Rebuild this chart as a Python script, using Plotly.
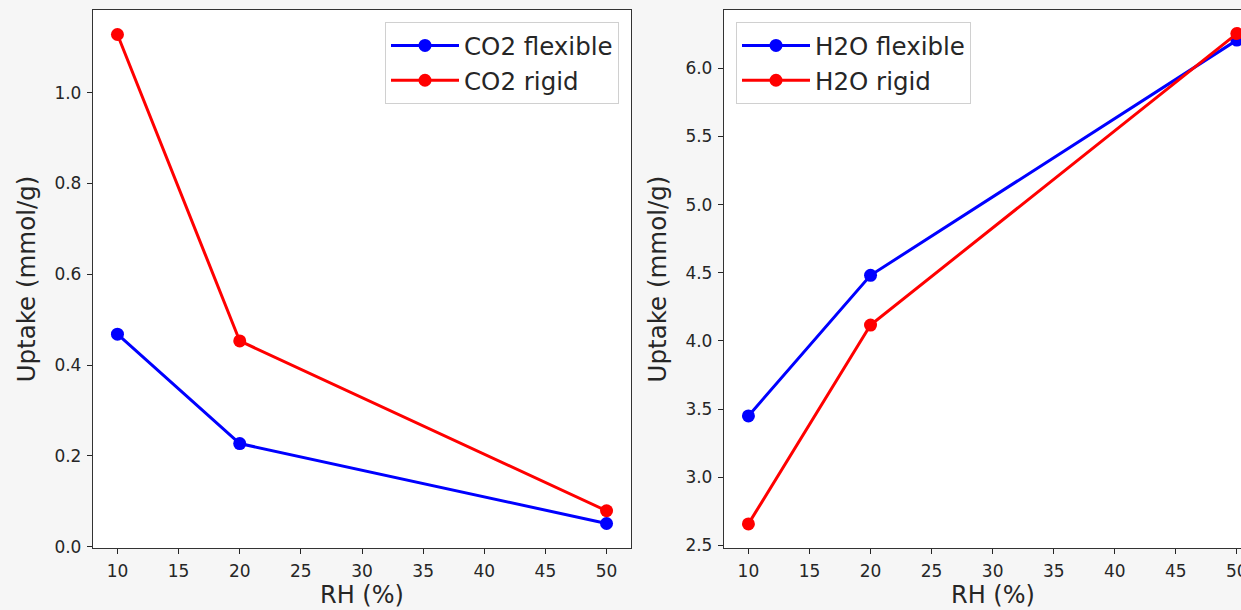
import plotly.graph_objects as go

rh = [10, 20, 50]
co2_flexible = [0.468, 0.227, 0.051]
co2_rigid = [1.128, 0.453, 0.079]
h2o_flexible = [3.449, 4.481, 6.207]
h2o_rigid = [2.657, 4.116, 6.255]

x_ticks = [10, 15, 20, 25, 30, 35, 40, 45, 50]
y1_ticks = [0.0, 0.2, 0.4, 0.6, 0.8, 1.0]
y2_ticks = [2.5, 3.0, 3.5, 4.0, 4.5, 5.0, 5.5, 6.0]
x_title = "RH (%)"
y_title = "Uptake (mmol/g)"

W, H = 1241, 610
BLUE, RED = "#0000ff", "#ff0000"
FONT = "DejaVu Sans"
TXT = "#262626"

fig = go.Figure()

def add(x, y, name, color, xa, ya, leg):
    fig.add_trace(go.Scatter(
        x=x, y=y, name=name, mode="lines+markers",
        line=dict(color=color, width=3),
        marker=dict(color=color, size=13, symbol="circle"),
        xaxis=xa, yaxis=ya, legend=leg, cliponaxis=False,
    ))

add(rh, co2_flexible, "CO2 flexible", BLUE, "x", "y", "legend")
add(rh, co2_rigid, "CO2 rigid", RED, "x", "y", "legend")
add(rh, h2o_flexible, "H2O flexible", BLUE, "x2", "y2", "legend2")
add(rh, h2o_rigid, "H2O rigid", RED, "x2", "y2", "legend2")

tickfont = dict(family=FONT, size=17, color=TXT)
titlefont = dict(family=FONT, size=24.5, color=TXT)

xcommon = dict(
    tickvals=x_ticks, ticks="outside", ticklen=5, tickwidth=1.2, tickcolor=TXT,
    showline=True, linecolor="#333333", linewidth=1.3, showgrid=False, zeroline=False,
    tickfont=tickfont, ticklabelstandoff=2, ticklabeloverflow="allow", automargin=False,
)
ycommon = dict(
    ticks="outside", ticklen=5, tickwidth=1.2, tickcolor=TXT, tickformat=".1f",
    showline=True, linecolor="#333333", linewidth=1.3, showgrid=False, zeroline=False,
    tickfont=tickfont, ticklabelstandoff=2, automargin=True,
    title=dict(text=y_title, font=titlefont, standoff=11),
)

legfont = dict(family=FONT, size=24.5, color=TXT)

d1 = [93 / W, 631 / W]
d2 = [724 / W, 1.0]

fig.update_layout(
    width=W, height=H, autosize=False,
    margin=dict(l=0, r=0, t=0, b=0, pad=0, autoexpand=False),
    paper_bgcolor="#f6f6f6", plot_bgcolor="#ffffff",
    xaxis=dict(xcommon, domain=d1, range=[8, 52], anchor="y", mirror=True),
    yaxis=dict(ycommon, domain=[1 - 548 / H, 1 - 10 / H], range=[-0.003, 1.182],
               tickvals=y1_ticks, anchor="x", mirror=True),
    xaxis2=dict(xcommon, domain=d2, range=[8, 50.34], anchor="y2", mirror=True),
    yaxis2=dict(ycommon, domain=[1 - 548 / H, 1 - 10 / H], range=[2.48, 6.428],
                tickvals=y2_ticks, anchor="x2", mirror=False),
    legend=dict(
        x=619 / W, y=1 - 22 / H, xanchor="right", yanchor="top",
        bgcolor="rgba(255,255,255,0.85)", bordercolor="#d0d0d0", borderwidth=1,
        font=legfont, tracegroupgap=0, itemwidth=68,
    ),
    legend2=dict(
        x=736 / W, y=1 - 22 / H, xanchor="left", yanchor="top",
        bgcolor="rgba(255,255,255,0.85)", bordercolor="#d0d0d0", borderwidth=1,
        font=legfont, tracegroupgap=0, itemwidth=68,
    ),
    showlegend=True,
)

# x-axis titles as paper annotations (centred under each full axes box)
for cx in [(93 + 631) / 2 / W, (724 + 1261) / 2 / W]:
    fig.add_annotation(
        text=x_title, x=cx, y=1 - 595 / H, xref="paper", yref="paper",
        xanchor="center", yanchor="middle", showarrow=False,
        font=dict(family=FONT, size=24, color=TXT),
    )

fig.write_html(
    "out.html",
    config={"displayModeBar": False},
    post_script="document.body.style.margin='0';document.body.style.overflow='hidden';",
)
